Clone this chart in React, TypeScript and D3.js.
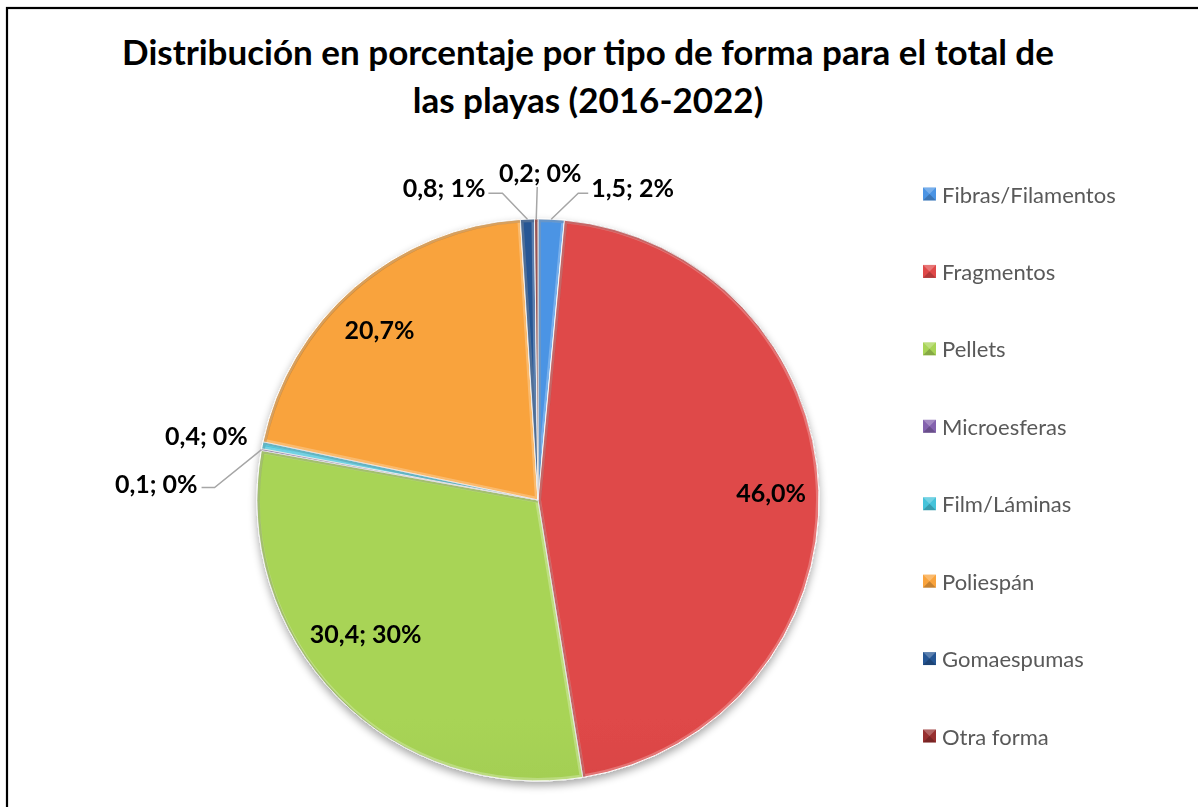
import React from "react";
import * as d3 from "d3";

const categories = [
  "Fibras/Filamentos",
  "Fragmentos",
  "Pellets",
  "Microesferas",
  "Film/Láminas",
  "Poliespán",
  "Gomaespumas",
  "Otra forma",
];
const values = [1.5, 46.0, 30.4, 0.1, 0.4, 20.7, 0.8, 0.2];
const labelTexts = ["1,5; 2%", "46,0%", "30,4; 30%", "0,1; 0%", "0,4; 0%", "20,7%", "0,8; 1%", "0,2; 0%"];
const colorsTop = ["#4b94e4", "#df4848", "#a8d456", "#8462ae", "#45c3da", "#f9a33c", "#255694", "#972f2f"];
const colorsBottom = ["#2c6dba", "#ad3131", "#80a33a", "#5f4384", "#2798ae", "#e0802a", "#163a6a", "#6e1e1e"];
const titleLines = [
  "Distribución en porcentaje por tipo de forma para el total de",
  "las playas (2016-2022)",
];

type Layout =
  | { mode: "in"; k: number; dx: number; dy: number }
  | { mode: "out"; elbow: [number, number]; tail: number; text: [number, number]; anchor: "start" | "middle" | "end" };

const labelLayout: Layout[] = [
  { mode: "out", elbow: [27, -26], tail: 10, text: [40, -32], anchor: "start" },
  { mode: "in", k: 0.83, dx: 0, dy: 0 },
  { mode: "in", k: 0.77, dx: -18, dy: -19 },
  { mode: "out", elbow: [-47, 38], tail: -13, text: [-64, 33], anchor: "end" },
  { mode: "out", elbow: [0, 0], tail: 0, text: [-56, -10], anchor: "middle" },
  { mode: "in", k: 0.83, dx: -6, dy: 6 },
  { mode: "out", elbow: [-25, -26], tail: -14, text: [-42, -32], anchor: "end" },
  { mode: "out", elbow: [1, -32], tail: 0, text: [4, -47], anchor: "middle" },
];

const W = 1198;
const H = 807;
const cx = 538;
const cy = 500;
const R = 281;

export default function App() {
  const pie = d3.pie<number>().sort(null).value((d) => d)(values);
  const arc = d3.arc<d3.PieArcDatum<number>>().innerRadius(0).outerRadius(R);
  const legendY = d3.scalePoint<string>().domain(categories).range([194, 736]);

  const pt = (angle: number, rad: number): [number, number] => [
    cx + rad * Math.sin(angle),
    cy - rad * Math.cos(angle),
  ];

  const font = "Lato, 'Open Sans', sans-serif";

  return (
    <svg
      width={W}
      height={H}
      style={{ position: "fixed", left: 0, top: 0, background: "#fff" }}
    >
      <defs>
        {categories.map((c, i) => (
          <linearGradient
            key={c}
            id={`g${i}`}
            gradientUnits="userSpaceOnUse"
            x1={0}
            y1={cy - R}
            x2={0}
            y2={cy + R}
          >
            <stop offset="0%" stopColor={colorsTop[i]} />
            <stop offset="100%" stopColor={colorsBottom[i]} />
          </linearGradient>
        ))}
        {pie.map((d, i) => (
          <clipPath key={i} id={`c${i}`}>
            <path d={arc(d) || ""} transform={`translate(${cx},${cy})`} />
          </clipPath>
        ))}
        <filter id="shadow" x="-10%" y="-10%" width="120%" height="125%">
          <feGaussianBlur in="SourceAlpha" stdDeviation="4" />
          <feOffset dx="0" dy="4" result="b" />
          <feComponentTransfer>
            <feFuncA type="linear" slope="0.35" />
          </feComponentTransfer>
          <feMerge>
            <feMergeNode />
            <feMergeNode in="SourceGraphic" />
          </feMerge>
        </filter>
      </defs>

      <rect x={7} y={8} width={1300} height={900} fill="#fff" stroke="#000" strokeWidth={2.2} />

      {titleLines.map((t, i) => (
        <text
          key={i}
          x={588}
          y={65 + i * 48}
          textAnchor="middle"
          fontFamily={font}
          fontWeight={700}
          fontSize={35}
          fill="#000"
        >
          {t}
        </text>
      ))}

      <g filter="url(#shadow)">
        {pie.map((d, i) => (
          <path
            key={i}
            d={arc(d) || ""}
            transform={`translate(${cx},${cy})`}
            fill={`url(#g${i})`}
            stroke="#fff"
            strokeWidth={1}
          />
        ))}
      </g>
      {pie.map((d, i) => (
        <g key={i} clipPath={`url(#c${i})`}>
          <path
            d={arc(d) || ""}
            transform={`translate(${cx},${cy})`}
            fill="none"
            stroke="#fff"
            strokeOpacity={0.25}
            strokeWidth={6}
          />
          <path
            d={arc(d) || ""}
            transform={`translate(${cx + 1.5},${cy + 1.5})`}
            fill="none"
            stroke="#000"
            strokeOpacity={0.14}
            strokeWidth={3}
          />
        </g>
      ))}

      {pie.map((d, i) => {
        const L = labelLayout[i];
        const mid = (d.startAngle + d.endAngle) / 2;
        if (L.mode === "in") {
          const [x, y] = pt(mid, R * L.k);
          return (
            <text
              key={i}
              x={x + L.dx}
              y={y + L.dy}
              textAnchor="middle"
              dominantBaseline="central"
              fontFamily={font}
              fontWeight={700}
              fontSize={25}
              fill="#000"
            >
              {labelTexts[i]}
            </text>
          );
        }
        const [ex, ey] = pt(mid, R);
        const hasLine = L.elbow[0] !== 0 || L.elbow[1] !== 0;
        const bx = ex + L.elbow[0];
        const by = ey + L.elbow[1];
        return (
          <g key={i}>
            {hasLine && (
              <polyline
                points={`${ex},${ey} ${bx},${by} ${bx + L.tail},${by}`}
                fill="none"
                stroke="#a6a6a6"
                strokeWidth={1.5}
              />
            )}
            <text
              x={ex + L.text[0]}
              y={ey + L.text[1]}
              textAnchor={L.anchor}
              dominantBaseline="central"
              fontFamily={font}
              fontWeight={700}
              fontSize={25}
              fill="#000"
            >
              {labelTexts[i]}
            </text>
          </g>
        );
      })}

      {categories.map((c, i) => {
        const y = legendY(c) || 0;
        return (
          <g key={c}>
            <rect x={923} y={y - 6.5} width={13} height={13} fill={colorsTop[i]} />
            <path
              d={`M${923},${y - 6.5} L${936},${y - 6.5} L${929.5},${y} Z`}
              fill="#fff"
              fillOpacity={0.25}
            />
            <path
              d={`M${923},${y + 6.5} L${936},${y + 6.5} L${929.5},${y} Z`}
              fill="#000"
              fillOpacity={0.2}
            />
            <text
              x={942}
              y={y}
              dominantBaseline="central"
              fontFamily={font}
              fontSize={22}
              fill="#595959"
            >
              {c}
            </text>
          </g>
        );
      })}
    </svg>
  );
}
